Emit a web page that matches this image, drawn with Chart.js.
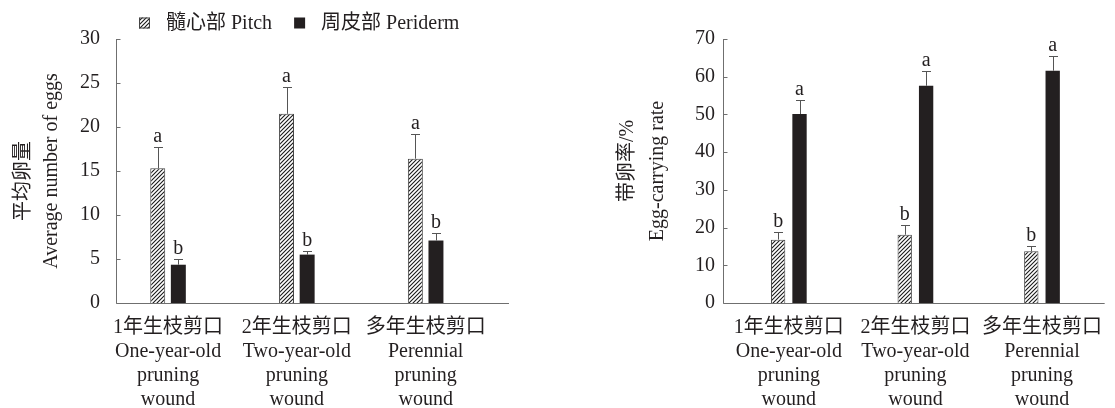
<!DOCTYPE html>
<html>
<head>
<meta charset="utf-8">
<script src="https://cdn.jsdelivr.net/npm/chart.js@4.4.3/dist/chart.umd.min.js"></script>
<style>
  html, body { margin: 0; padding: 0; background: #fff; }
  #wrap { position: relative; width: 1115px; height: 408px; }
  .box { position: absolute; top: 0; height: 408px; }
</style>
</head>
<body>
<div id="wrap">
  <div class="box" style="left:0;width:598px"><canvas id="eggs"></canvas></div>
  <div class="box" style="left:600px;width:515px"><canvas id="rate"></canvas></div>
</div>
<script>
const categories = [
  ['1年生枝剪口', 'One-year-old', 'pruning', 'wound'],
  ['2年生枝剪口', 'Two-year-old', 'pruning', 'wound'],
  ['多年生枝剪口', 'Perennial', 'pruning', 'wound'],
];
const seriesNames = ['髓心部 Pitch', '周皮部 Periderm'];

// 平均卵量
const eggPitch = [15.3, 21.5, 16.4];
const eggPitchErr = [2.4, 3.0, 2.8];
const eggPeriderm = [4.35, 5.5, 7.1];
const eggPeridermErr = [0.6, 0.4, 0.8];
const eggPitchSig = ['a', 'a', 'a'];
const eggPeridermSig = ['b', 'b', 'b'];
const eggTicks = [0, 5, 10, 15, 20, 25, 30];

// 带卵率/%
const ratePitch = [16.8, 18.1, 13.7];
const ratePitchErr = [2.1, 2.7, 1.4];
const ratePeriderm = [50.1, 57.6, 61.6];
const ratePeridermErr = [3.6, 3.8, 4.0];
const ratePitchSig = ['b', 'b', 'b'];
const ratePeridermSig = ['a', 'a', 'a'];
const rateTicks = [0, 10, 20, 30, 40, 50, 60, 70];

const FONT = "'Liberation Serif', 'Noto Sans CJK SC', serif";
const INK = '#231f20';
const AXIS = '#6f6f6f';

function hatch() {
  const c = document.createElement('canvas');
  c.width = 4; c.height = 4;
  const g = c.getContext('2d');
  g.fillStyle = '#fff';
  g.fillRect(0, 0, 4, 4);
  g.strokeStyle = '#1a1a1a';
  g.lineWidth = 1.1;
  g.beginPath();
  g.moveTo(0, 4); g.lineTo(4, 0);
  g.moveTo(-1, 1); g.lineTo(1, -1);
  g.moveTo(3, 5); g.lineTo(5, 3);
  g.stroke();
  return g.createPattern(c, 'repeat');
}
const pitchFill = hatch();

// 误差线、显著性字母、坐标轴线、内向刻度和图例
const extras = {
  id: 'extras',
  afterDatasetsDraw(chart, args, opts) {
    const { ctx, chartArea } = chart;
    const x = chart.scales.x;
    const y = chart.scales.y;
    ctx.save();
    chart.data.datasets.forEach((ds, i) => {
      chart.getDatasetMeta(i).data.forEach((bar, j) => {
        const top = Math.round(y.getPixelForValue(ds.data[j].y + ds.err[j])) + 0.5;
        const cx = Math.round(bar.x) + 0.5;
        ctx.strokeStyle = '#555';
        ctx.lineWidth = 1;
        ctx.beginPath();
        ctx.moveTo(cx, bar.y);
        ctx.lineTo(cx, top);
        ctx.moveTo(cx - 4.5, top);
        ctx.lineTo(cx + 4.5, top);
        ctx.stroke();
        ctx.fillStyle = INK;
        ctx.font = '20px ' + FONT;
        ctx.textAlign = 'center';
        ctx.textBaseline = 'alphabetic';
        ctx.fillText(ds.sig[j], bar.x, top - 6);
      });
    });
    const left = chartArea.left + 0.5;
    const bottom = Math.round(chartArea.bottom) + 0.5;
    ctx.strokeStyle = AXIS;
    ctx.lineWidth = 1;
    ctx.beginPath();
    ctx.moveTo(left, chartArea.top);
    ctx.lineTo(left, bottom);
    ctx.lineTo(x.getPixelForValue(opts.axisEnd), bottom);
    y.ticks.forEach((t) => {
      const py = Math.round(y.getPixelForValue(t.value)) + 0.5;
      ctx.moveTo(left, py);
      ctx.lineTo(left + 4, py);
    });
    ctx.stroke();

    if (opts.legend) {
      ctx.font = '20px ' + FONT;
      ctx.textAlign = 'left';
      ctx.textBaseline = 'middle';
      const gap = 16;
      const items = chart.data.datasets.map((ds) => ({ ds, w: ctx.measureText(ds.label).width }));
      const total = items.reduce((s, it) => s + 11 + gap + it.w, 0) + 22 * (items.length - 1);
      let lx = Math.round(chart.width / 2 - total / 2);
      const ly = 23;
      items.forEach(({ ds, w }) => {
        ctx.fillStyle = ds.backgroundColor;
        ctx.fillRect(lx, ly - 5.5, 11, 11);
        if (ds.borderWidth) {
          ctx.strokeStyle = ds.borderColor;
          ctx.strokeRect(lx + 0.5, ly - 5, 10, 10);
        }
        ctx.fillStyle = INK;
        ctx.fillText(ds.label, lx + 11 + gap, ly + 1);
        lx += 11 + gap + w + 22;
      });
    }
    ctx.restore();
  },
};

function makeChart(id, cfg) {
  const datasets = [
    {
      label: seriesNames[0],
      data: cfg.pitch.map((v, i) => ({ x: i, y: v })),
      err: cfg.pitchErr,
      sig: cfg.pitchSig,
      backgroundColor: pitchFill,
      borderColor: '#444',
      borderWidth: 1,
    },
    {
      label: seriesNames[1],
      data: cfg.periderm.map((v, i) => ({ x: i, y: v })),
      err: cfg.peridermErr,
      sig: cfg.peridermSig,
      backgroundColor: INK,
      borderColor: INK,
      borderWidth: 0,
    },
  ];
  return new Chart(document.getElementById(id), {
    type: 'bar',
    data: { datasets },
    plugins: [extras],
    options: {
      responsive: true,
      maintainAspectRatio: false,
      animation: false,
      categoryPercentage: cfg.catPct,
      barPercentage: cfg.barPct,
      layout: { padding: { top: 39, right: 0, left: 0, bottom: 0 } },
      plugins: {
        tooltip: { enabled: false },
        legend: { display: false },
        extras: { axisEnd: cfg.axisEnd, legend: cfg.legend },
      },
      scales: {
        x: {
          type: 'linear',
          offset: false,
          min: cfg.xMin,
          max: cfg.xMax,
          afterBuildTicks: (s) => { s.ticks = categories.map((c, i) => ({ value: i })); },
          afterFit: (s) => { s.height = 105; },
          grid: { display: false, drawTicks: false },
          border: { display: false },
          ticks: {
            callback: (v) => categories[v],
            autoSkip: false,
            maxRotation: 0,
            padding: 13,
            color: INK,
            font: { family: FONT, size: 20, lineHeight: 1.2 },
          },
        },
        y: {
          min: cfg.ticks[0],
          max: cfg.ticks[cfg.ticks.length - 1],
          afterBuildTicks: (s) => { s.ticks = cfg.ticks.map((v) => ({ value: v })); },
          afterFit: (s) => { s.width = cfg.yWidth; },
          grid: { display: false, drawTicks: false },
          border: { display: false },
          ticks: {
            padding: cfg.tickPad,
            color: INK,
            font: { family: FONT, size: 20 },
          },
          title: {
            display: true,
            text: cfg.title,
            color: INK,
            font: { family: FONT, size: 20, lineHeight: cfg.titleLH },
            padding: { top: cfg.titlePad, bottom: 0 },
          },
        },
      },
    },
  });
}

makeChart('eggs', {
  pitch: eggPitch, pitchErr: eggPitchErr, pitchSig: eggPitchSig,
  periderm: eggPeriderm, peridermErr: eggPeridermErr, peridermSig: eggPeridermSig,
  ticks: eggTicks,
  title: ['平均卵量\u3000', 'Average number of eggs'],
  legend: true,
  xMin: -0.404, xMax: 3.338, axisEnd: 2.647,
  catPct: 0.32, barPct: 0.726,
  yWidth: 116, tickPad: 16, titlePad: 10, titleLH: 1.4,
});

makeChart('rate', {
  pitch: ratePitch, pitchErr: ratePitchErr, pitchSig: ratePitchSig,
  periderm: ratePeriderm, peridermErr: ratePeridermErr, peridermSig: ratePeridermSig,
  ticks: rateTicks,
  title: ['\u3000带卵率/%', 'Egg-carrying rate'],
  legend: false,
  xMin: -0.52, xMax: 2.495, axisEnd: 2.495,
  catPct: 0.338, barPct: 0.67,
  yWidth: 123, tickPad: 8, titlePad: 13, titleLH: 1.5,
});
</script>
</body>
</html>
